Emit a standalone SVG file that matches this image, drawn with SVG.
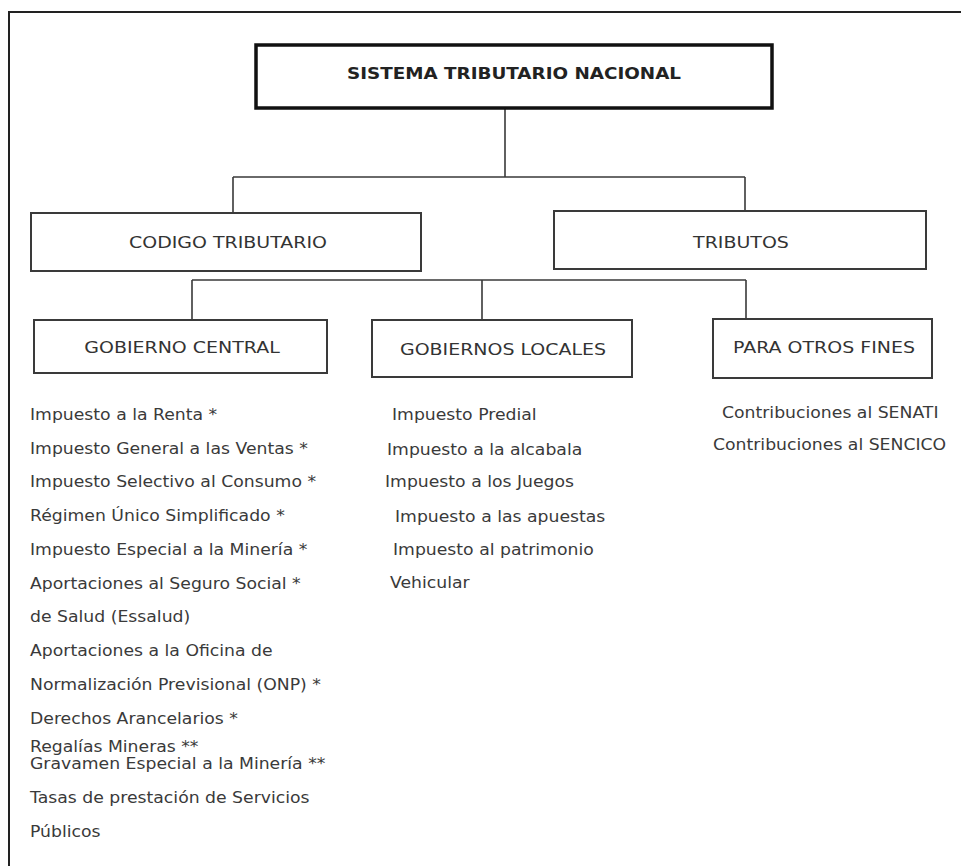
<svg xmlns="http://www.w3.org/2000/svg" width="961" height="866" viewBox="0 0 961 866">
<style>
.frame{fill:none;stroke:#222;stroke-width:2}
.box{fill:#fff;stroke:#3a3a3a;stroke-width:2}
.main{fill:#fff;stroke:#111;stroke-width:3.5}
.conn{fill:none;stroke:#3a3a3a;stroke-width:1.6}
.lbl{font-family:"DejaVu Sans",Verdana,sans-serif;font-size:16.5px;fill:#333;text-anchor:middle}
.title{font-family:"DejaVu Sans",Verdana,sans-serif;font-size:16px;font-weight:bold;fill:#222;text-anchor:middle}
.it{font-family:"DejaVu Sans",Verdana,sans-serif;font-size:15px;fill:#3a3a3a}
</style>
<rect width="961" height="866" fill="#fff"/>
<path class="frame" d="M961,12 H9 V866"/>
<g id="connectors">
<path class="conn" d="M505,108 V177 M233,177 H745 M233,177 V213 M745,177 V211"/>
<path class="conn" d="M192,280 H746 M192,280 V320 M482,280 V320 M746,280 V319"/>
</g>
<g id="sistema">
<rect class="main" x="256" y="45" width="516" height="63"/>
<text class="title" x="514" y="79" textLength="334" lengthAdjust="spacingAndGlyphs">SISTEMA TRIBUTARIO NACIONAL</text>
</g>
<g id="codigo">
<rect class="box" x="31" y="213" width="390" height="58"/>
<text class="lbl" transform="translate(228,248) scale(1.15,1)">CODIGO TRIBUTARIO</text>
</g>
<g id="tributos">
<rect class="box" x="554" y="211" width="372" height="58"/>
<text class="lbl" transform="translate(741,248) scale(1.15,1)">TRIBUTOS</text>
</g>
<g id="central">
<rect class="box" x="34" y="320" width="293" height="53"/>
<text class="lbl" transform="translate(182,353) scale(1.15,1)">GOBIERNO CENTRAL</text>
</g>
<g id="locales">
<rect class="box" x="372" y="320" width="260" height="57"/>
<text class="lbl" transform="translate(503,355) scale(1.15,1)">GOBIERNOS LOCALES</text>
</g>
<g id="otros">
<rect class="box" x="713" y="319" width="219" height="59"/>
<text class="lbl" transform="translate(824,353) scale(1.15,1)">PARA OTROS FINES</text>
</g>
<g id="lista-central">
<text class="it" transform="translate(30,420) scale(1.15,1)">Impuesto a la Renta *</text>
<text class="it" transform="translate(30,454) scale(1.15,1)">Impuesto General a las Ventas *</text>
<text class="it" transform="translate(30,487) scale(1.15,1)">Impuesto Selectivo al Consumo *</text>
<text class="it" transform="translate(30,521) scale(1.15,1)">Régimen Único Simplificado *</text>
<text class="it" transform="translate(30,555) scale(1.15,1)">Impuesto Especial a la Minería *</text>
<text class="it" transform="translate(30,589) scale(1.15,1)">Aportaciones al Seguro Social *</text>
<text class="it" transform="translate(30,622) scale(1.15,1)">de Salud (Essalud)</text>
<text class="it" transform="translate(30,656) scale(1.15,1)">Aportaciones a la Oficina de</text>
<text class="it" transform="translate(30,690) scale(1.15,1)">Normalización Previsional (ONP) *</text>
<text class="it" transform="translate(30,724) scale(1.15,1)">Derechos Arancelarios *</text>
<text class="it" transform="translate(30,752) scale(1.15,1)">Regalías Mineras **</text>
<text class="it" transform="translate(30,769) scale(1.15,1)">Gravamen Especial a la Minería **</text>
<text class="it" transform="translate(30,803) scale(1.15,1)">Tasas de prestación de Servicios</text>
<text class="it" transform="translate(30,837) scale(1.15,1)">Públicos</text>
</g>
<g id="lista-locales">
<text class="it" transform="translate(392,420) scale(1.15,1)">Impuesto Predial</text>
<text class="it" transform="translate(387,455) scale(1.15,1)">Impuesto a la alcabala</text>
<text class="it" transform="translate(385,487) scale(1.15,1)">Impuesto a los Juegos</text>
<text class="it" transform="translate(395,522) scale(1.15,1)">Impuesto a las apuestas</text>
<text class="it" transform="translate(393,555) scale(1.15,1)">Impuesto al patrimonio</text>
<text class="it" transform="translate(390,588) scale(1.15,1)">Vehicular</text>
</g>
<g id="lista-otros">
<text class="it" transform="translate(722,418) scale(1.15,1)">Contribuciones al SENATI</text>
<text class="it" transform="translate(713,450) scale(1.15,1)">Contribuciones al SENCICO</text>
</g>
</svg>
